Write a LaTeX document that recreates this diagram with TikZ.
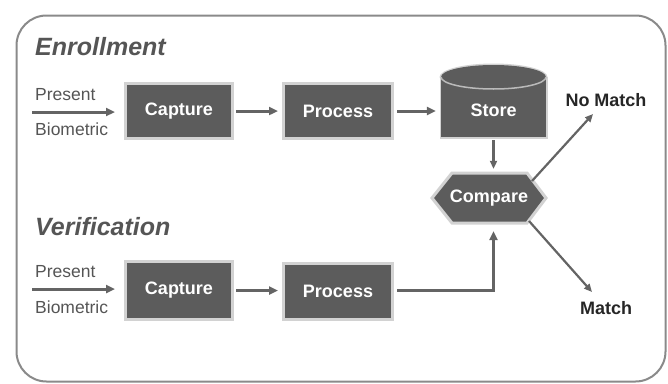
\documentclass[tikz,border=0pt]{standalone}
\usepackage{fontspec}
\setmainfont{Liberation Sans}
\usetikzlibrary{arrows.meta,calc}
\definecolor{boxgray}{HTML}{5C5C5C}
\definecolor{halogray}{HTML}{D2D2D2}
\definecolor{framegray}{HTML}{8A8A8A}
\definecolor{arrowgray}{HTML}{646464}
\definecolor{headgray}{HTML}{555555}
\tikzset{
  stepbox/.style={fill=boxgray, draw=halogray, line width=3pt, text=white,
    font=\bfseries\fontsize{18}{20}\selectfont, inner sep=0pt},
  flow/.style={draw=arrowgray, line width=3pt, -{Triangle[length=9pt,width=8pt]}},
  thinflow/.style={draw=arrowgray, line width=2.2pt, -{Triangle[length=8pt,width=7pt]}},
  heading/.style={font=\bfseries\itshape\fontsize{25}{28}\selectfont, text=headgray, inner sep=0pt, anchor=base west},
  sidelabel/.style={font=\fontsize{17.5}{20}\selectfont, text=headgray, inner sep=0pt, anchor=base west},
  outlabel/.style={font=\bfseries\fontsize{18}{20}\selectfont, text=black!85, inner sep=0pt},
}
\begin{document}
\begin{tikzpicture}[x=1pt,y=-1pt]
\useasboundingbox (0,0) rectangle (668,383);
% frame
\node[draw=framegray, line width=2pt, rounded corners=30pt, minimum width=649pt, minimum height=366pt, inner sep=0pt] (frame) at (341,198.5) {};

% Enrollment
\node[heading] (enr) at (35,55) {Enrollment};
\node[sidelabel] (pres1) at (35,100) {Present};
\node[sidelabel] (bio1) at (35,135) {Biometric};
\coordinate (in1) at (32,112);
\node[stepbox, minimum width=107pt, minimum height=55pt] (cap1) at (179,111) {Capture};
\node[stepbox, minimum width=109pt, minimum height=55pt] (proc1) at (338,111) {Process};

% Store cylinder
\node[inner sep=0pt, minimum width=105pt, minimum height=72pt] (store) at (493.5,101) {};
\fill[halogray] (439.5,137.5+1.5) rectangle (547.5,77);
\fill[halogray] (493.5,77) ellipse [x radius=54, y radius=13.5];
\fill[boxgray] (441,137) rectangle (546,77);
\fill[boxgray] (493.5,77) ellipse [x radius=52.5, y radius=12];
\draw[halogray!80!boxgray, line width=1.5pt] (441,77) arc[start angle=180, end angle=360, x radius=52.5, y radius=-12];
\node[text=white, font=\bfseries\fontsize{18}{20}\selectfont, inner sep=0pt] (storetxt) at (493.5,110) {Store};

% Compare hexagon
\node[inner sep=0pt, minimum width=114pt, minimum height=50pt] (compare) at (489,198) {};
\fill[boxgray, draw=halogray, line width=3pt] (432,198) -- (452,173) -- (527,173) -- (546,198) -- (527,223) -- (452,223) -- cycle;
\node[text=white, font=\bfseries\fontsize{18}{20}\selectfont, inner sep=0pt] (comptxt) at (489,198) {Compare};

\node[outlabel] (nomatch) at (606,100) {No Match};
\node[outlabel] (match) at (606,308) {Match};

% Verification
\node[heading] (ver) at (35,235) {Verification};
\node[sidelabel] (pres2) at (35,277) {Present};
\node[sidelabel] (bio2) at (35,313) {Biometric};
\coordinate (in2) at (32,289);
\node[stepbox, minimum width=107pt, minimum height=58pt] (cap2) at (179,290.5) {Capture};
\node[stepbox, minimum width=109pt, minimum height=56pt] (proc2) at (338,291.5) {Process};

% connectors
\draw[flow] (in1) -- ($(cap1.west)+(-9,1)$);
\draw[flow] (cap1.east) ++(2,0) -- ($(proc1.west)+(-4,0)$);
\draw[flow] (proc1.east) ++(3,0) -- ($(store.west)+(-5,10)$);
\draw[thinflow] ($(store.south)+(0,3)$) -- ($(store.south |- compare.north)+(0,-4)$);
\coordinate (nmstart) at (532,181);
\coordinate (nmtip) at (593,114);
\coordinate (mstart) at (529,221);
\coordinate (mtip) at (592,292);
\draw[thinflow] (nmstart) -- (nmtip);
\draw[thinflow] (mstart) -- (mtip);

\draw[flow] (in2) -- ($(cap2.west)+(-9,-1.5)$);
\draw[flow] (cap2.east) ++(2,0) -- ($(proc2.west)+(-4,-1)$);
\draw[flow] ($(proc2.east)+(3,-1.5)$) -| ($(store.south |- compare.south)+(0,8)$);
\end{tikzpicture}
\end{document}
